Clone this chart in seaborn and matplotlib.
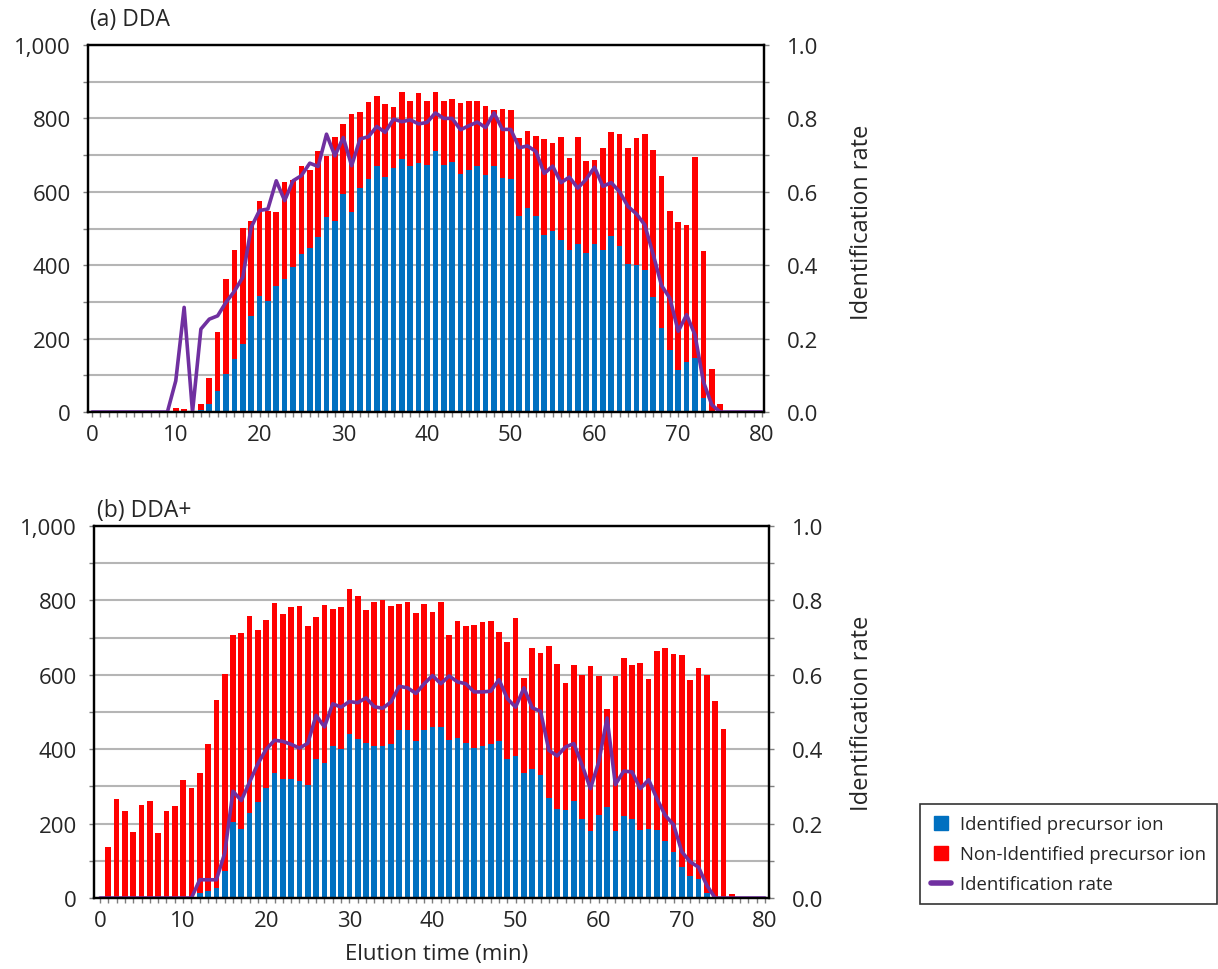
import numpy as np
import pandas as pd
import matplotlib
matplotlib.use("Agg")
import matplotlib.pyplot as plt
from matplotlib.lines import Line2D
from matplotlib.ticker import MultipleLocator, FuncFormatter, FixedLocator
import seaborn as sns

# ---------------- data ----------------
minutes = list(range(0, 81))

# (a) DDA
dda_total = [0, 0, 0, 0, 0, 0, 0, 0, 0, 0,
             12, 7, 3, 22, 92, 219, 362, 442, 502, 521,
             576, 547, 545, 626, 631, 671, 659, 711, 697, 748,
             785, 811, 818, 844, 862, 839, 832, 871, 847, 868,
             848, 871, 847, 854, 843, 848, 847, 835, 823, 826,
             823, 746, 766, 751, 743, 734, 748, 691, 748, 685,
             688, 718, 762, 757, 720, 746, 757, 714, 643, 548,
             519, 510, 694, 440, 118, 21, 0, 0, 0, 0, 0]
dda_identified = [0, 0, 0, 0, 0, 0, 0, 0, 0, 0,
                  1, 2, 0, 5, 23, 56, 103, 144, 185, 262,
                  316, 303, 342, 362, 396, 431, 448, 477, 530, 521,
                  594, 545, 609, 634, 671, 641, 666, 689, 670, 679,
                  674, 710, 674, 682, 649, 659, 669, 646, 670, 637,
                  634, 533, 556, 533, 482, 493, 468, 441, 459, 434,
                  459, 441, 479, 453, 404, 401, 387, 314, 228, 170,
                  115, 135, 146, 38, 2, 0, 0, 0, 0, 0, 0]
dda_rate = [0, 0, 0, 0, 0, 0, 0, 0, 0, 0,
            0.085, 0.285, 0.0, 0.226, 0.253, 0.262, 0.299, 0.329, 0.367, 0.503,
            0.549, 0.553, 0.630, 0.576, 0.630, 0.644, 0.678, 0.669, 0.757, 0.698,
            0.748, 0.671, 0.744, 0.750, 0.778, 0.762, 0.798, 0.791, 0.796, 0.785,
            0.789, 0.815, 0.800, 0.800, 0.769, 0.780, 0.790, 0.775, 0.815, 0.770,
            0.770, 0.720, 0.725, 0.710, 0.650, 0.670, 0.625, 0.640, 0.610, 0.634,
            0.667, 0.615, 0.625, 0.600, 0.560, 0.540, 0.510, 0.430, 0.345, 0.310,
            0.220, 0.265, 0.210, 0.083, 0.020, 0, 0, 0, 0, 0, 0]

# (b) DDA+
ddap_total = [0, 137, 265, 235, 177, 249, 260, 175, 235, 246,
              317, 297, 337, 415, 533, 601, 708, 713, 759, 721,
              747, 793, 764, 782, 784, 730, 755, 788, 777, 782,
              830, 813, 773, 796, 802, 784, 790, 796, 767, 789,
              770, 796, 707, 745, 730, 733, 741, 744, 715, 687,
              753, 592, 673, 659, 678, 630, 579, 627, 599, 624,
              596, 507, 596, 644, 627, 633, 590, 664, 673, 656,
              653, 587, 618, 599, 530, 455, 12, 0, 0, 0, 0]
ddap_identified = [0, 0, 0, 0, 0, 0, 0, 0, 0, 0,
                   0, 0, 14, 20, 26, 72, 203, 186, 229, 258,
                   296, 336, 321, 321, 315, 305, 373, 364, 408, 401,
                   442, 427, 418, 409, 409, 415, 452, 452, 421, 452,
                   461, 459, 425, 429, 418, 404, 409, 413, 421, 373,
                   383, 336, 348, 330, 269, 240, 236, 261, 212, 181,
                   224, 244, 181, 220, 212, 183, 186, 183, 152, 124,
                   83, 58, 52, 14, 0, 0, 0, 0, 0, 0, 0]
ddap_rate = [0, 0, 0, 0, 0, 0, 0, 0, 0, 0,
             0, 0, 0.049, 0.049, 0.049, 0.120, 0.287, 0.262, 0.312, 0.361,
             0.400, 0.424, 0.421, 0.413, 0.403, 0.416, 0.491, 0.460, 0.522, 0.513,
             0.528, 0.525, 0.538, 0.514, 0.510, 0.527, 0.569, 0.565, 0.550, 0.576,
             0.598, 0.576, 0.597, 0.581, 0.576, 0.554, 0.554, 0.556, 0.587, 0.536,
             0.513, 0.565, 0.511, 0.502, 0.397, 0.382, 0.406, 0.415, 0.357, 0.294,
             0.366, 0.484, 0.305, 0.341, 0.339, 0.294, 0.318, 0.267, 0.222, 0.197,
             0.124, 0.097, 0.083, 0.034, 0, 0, 0, 0, 0, 0, 0]

panel_titles = ["(a) DDA", "(b) DDA+"]
x_label = "Elution time (min)"
right_label = "Identification rate"
legend_labels = ["Identified precursor ion", "Non-Identified precursor ion", "Identification rate"]

# ---------------- style ----------------
sns.set_style("white")
plt.rcParams['font.family'] = ['Open Sans', 'DejaVu Sans']

BLUE = '#0070C0'
RED = '#FF0000'
PURPLE = '#7030A0'
GRID = '#B5B5B5'
TICKFS = 16

W, H = 1218, 970
fig = plt.figure(figsize=(W / 100, H / 100), dpi=100)

ax_a = fig.add_axes([88 / W, 1 - 413 / H, 676 / W, 367 / H])
ax_b = fig.add_axes([94 / W, 1 - 899 / H, 675 / W, 372 / H])


def draw_panel(ax, total, ident, rate, xlim):
    df = pd.DataFrame({'minute': minutes, 'total': total,
                       'identified': ident, 'rate': rate})
    sns.barplot(data=df, x='minute', y='total', color=RED, saturation=1,
                width=0.68, native_scale=True, errorbar=None, linewidth=0, ax=ax)
    sns.barplot(data=df, x='minute', y='identified', color=BLUE, saturation=1,
                width=0.68, native_scale=True, errorbar=None, linewidth=0, ax=ax)
    ax.set_ylim(0, 1000)
    ax.set_xlim(*xlim)
    ax.yaxis.set_major_locator(FixedLocator(list(range(0, 1001, 200))))
    ax.yaxis.set_minor_locator(MultipleLocator(100))
    ax.yaxis.set_major_formatter(FuncFormatter(lambda v, p: f"{int(round(v)):,}"))
    ax.xaxis.set_major_locator(FixedLocator(list(range(0, 81, 10))))
    ax.xaxis.set_minor_locator(MultipleLocator(1))
    ax.grid(which='both', axis='y', color=GRID, lw=1.5)
    ax.grid(False, axis='x', which='both')
    ax.set_axisbelow(True)
    ax.tick_params(axis='y', which='both', direction='out', length=3.5,
                   width=1, color='#7f7f7f', labelsize=TICKFS, pad=9, left=True)
    ax.tick_params(axis='x', which='both', direction='out', length=3.5,
                   width=1, color='#7f7f7f', labelsize=TICKFS, pad=5, bottom=True)
    ax.set_xlabel('')
    ax.set_ylabel('')
    for s in ax.spines.values():
        s.set_visible(True)
        s.set_color('black')
        s.set_linewidth(1.6)

    ax2 = ax.twinx()
    sns.lineplot(data=df, x='minute', y='rate', color=PURPLE, lw=2.6,
                 errorbar=None, ax=ax2)
    ax2.set_ylim(0, 1.0)
    ax2.set_xlim(*xlim)
    ax2.yaxis.set_major_locator(FixedLocator([0, 0.2, 0.4, 0.6, 0.8, 1.0]))
    ax2.yaxis.set_minor_locator(MultipleLocator(0.1))
    ax2.yaxis.set_major_formatter(FuncFormatter(lambda v, p: f"{v:.1f}"))
    ax2.tick_params(axis='y', which='both', direction='out', length=3.5,
                    width=1, color='#7f7f7f', labelsize=TICKFS, pad=13, right=True)
    ax2.set_ylabel('')
    ax2.set_xlabel('')
    for s in ax2.spines.values():
        s.set_visible(True)
        s.set_color('black')
        s.set_linewidth(1.6)
    return ax2


draw_panel(ax_a, dda_total, dda_identified, dda_rate, (-0.48, 80.24))
draw_panel(ax_b, ddap_total, ddap_identified, ddap_rate, (-0.72, 80.48))

# titles and labels
fig.text(90 / W, 1 - 20 / H, panel_titles[0], fontsize=16.5, ha='left', va='center')
fig.text(97 / W, 1 - 511 / H, panel_titles[1], fontsize=16.5, ha='left', va='center')
fig.text(862 / W, 1 - 222 / H, right_label, fontsize=17, rotation=90,
         ha='center', va='center')
fig.text(862 / W, 1 - 713 / H, right_label, fontsize=17, rotation=90,
         ha='center', va='center')
fig.text(437 / W, 1 - 955 / H, x_label, fontsize=16, ha='center', va='center')

# legend
handles = [
    Line2D([], [], marker='s', color=BLUE, linestyle='none', markersize=10.5),
    Line2D([], [], marker='s', color=RED, linestyle='none', markersize=10.5),
    Line2D([], [], color=PURPLE, lw=4),
]
leg = fig.legend(handles, legend_labels, loc='upper left',
                 bbox_to_anchor=(920 / W, 1 - 805 / H), frameon=True,
                 fancybox=False, edgecolor='black', fontsize=13.3,
                 handlelength=1.1, handletextpad=0.45, labelspacing=0.65,
                 borderpad=0.6, borderaxespad=0)
leg.get_frame().set_linewidth(1.2)

fig.savefig('out.png', dpi=100)
